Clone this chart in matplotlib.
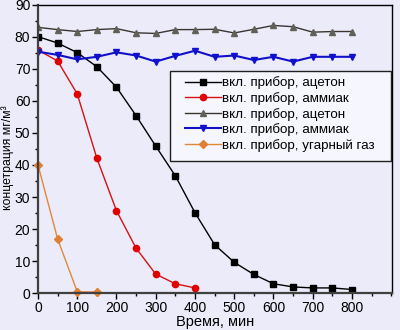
import numpy as np
from matplotlib import pyplot as plt
from matplotlib.ticker import MultipleLocator
from matplotlib.patches import Rectangle, Shadow

plt.rcParams['font.family'] = ['Liberation Sans', 'DejaVu Sans']

# time, min
t_full = np.arange(0, 801, 50)
t_nh3 = np.arange(0, 401, 50)
t_co = np.array([0, 50, 100, 150])

# concentration, mg/m3
acetone_on = [80.1, 78.1, 75.1, 70.7, 64.3, 55.4, 45.9, 36.6, 25.1,
              15.1, 9.6, 5.8, 2.9, 1.9, 1.6, 1.6, 1.1]
ammonia_on = [75.9, 72.5, 62.2, 42.1, 25.7, 14.0, 5.9, 2.9, 1.6]
acetone_2 = [83.0, 82.3, 81.7, 82.3, 82.6, 81.3, 81.1, 82.3, 82.3,
             82.4, 81.25, 82.4, 83.6, 83.2, 81.5, 81.7, 81.7]
ammonia_2 = [75.4, 74.4, 73.0, 73.8, 75.2, 74.2, 72.3, 74.1, 75.7,
             73.8, 74.2, 72.8, 73.8, 72.3, 73.8, 73.8, 73.8]
co_on = [40.0, 16.9, 0.4, 0.3]

labels = ["вкл. прибор, ацетон", "вкл. прибор, аммиак", "вкл. прибор, ацетон",
          "вкл. прибор, аммиак", "вкл. прибор, угарный газ"]

bg = '#EBEBFA'
fig = plt.figure(figsize=(4, 3.3), dpi=100, facecolor=bg)
ax = fig.add_axes([0.095, 0.112, 0.885, 0.873], facecolor=bg)

ax.plot(t_full, acetone_on, '-s', color='black', lw=1, ms=4, label=labels[0])
ax.plot(t_nh3, ammonia_on, '-o', color='#D81010', mfc='#E00000', mec='#E00000', lw=1, ms=4.5, label=labels[1])
ax.plot(t_full, acetone_2, '-^', color='#3A3530', mfc='#606058', mec='#606058', lw=1, ms=4.5, label=labels[2])
ax.plot(t_full, ammonia_2, '-v', color='#1010C8', mfc='#1010D0', mec='#1010D0', lw=1.5, ms=5, label=labels[3])
ax.plot(t_co, co_on, '-D', color='#E08838', mfc='#E08030', mec='#E08030', lw=1, ms=3.8, label=labels[4], clip_on=False)

ax.set_xlim(0, 902)
ax.set_ylim(0, 90)
ax.xaxis.set_minor_locator(MultipleLocator(50))
ax.yaxis.set_major_locator(MultipleLocator(10))
ax.yaxis.set_minor_locator(MultipleLocator(5))
ax.set_xticks(np.arange(0, 801, 100))
ax.tick_params(which='major', direction='out', length=4, width=1, labelsize=10, pad=1.5)
ax.tick_params(which='minor', direction='out', length=2.5, width=1)
for s in ['left', 'bottom']:
    ax.spines[s].set_linewidth(1.6)
    ax.spines[s].set_color('#404040')
for s in ['top', 'right']:
    ax.spines[s].set_linewidth(1)

ax.set_xlabel("Время, мин", fontsize=10.5, labelpad=0)
ax.set_ylabel("концетрация мг/м³", fontsize=8.8)
ax.yaxis.set_label_coords(-0.069, 0.47)

# legend box with a drop shadow, entries drawn without their own frame
box = Rectangle((0.373, 0.458), 0.624, 0.313, transform=ax.transAxes,
                facecolor='#F6F6FF', edgecolor='#202020', lw=1, zorder=4.5)
shadow = Shadow(box, 2.2, -2.2)
shadow.set_facecolor('#A0A0A8')
shadow.set_alpha(1)
shadow.set_zorder(4.4)
ax.add_patch(shadow)
ax.add_patch(box)

leg = ax.legend(loc='upper left', bbox_to_anchor=(0.415, 0.752), fontsize=9.65,
                frameon=False, handlelength=2.7, handletextpad=0.05,
                borderpad=0, labelspacing=0.2, borderaxespad=0)
leg.set_zorder(5)

fig.savefig('out.png', dpi=100, facecolor=bg)
